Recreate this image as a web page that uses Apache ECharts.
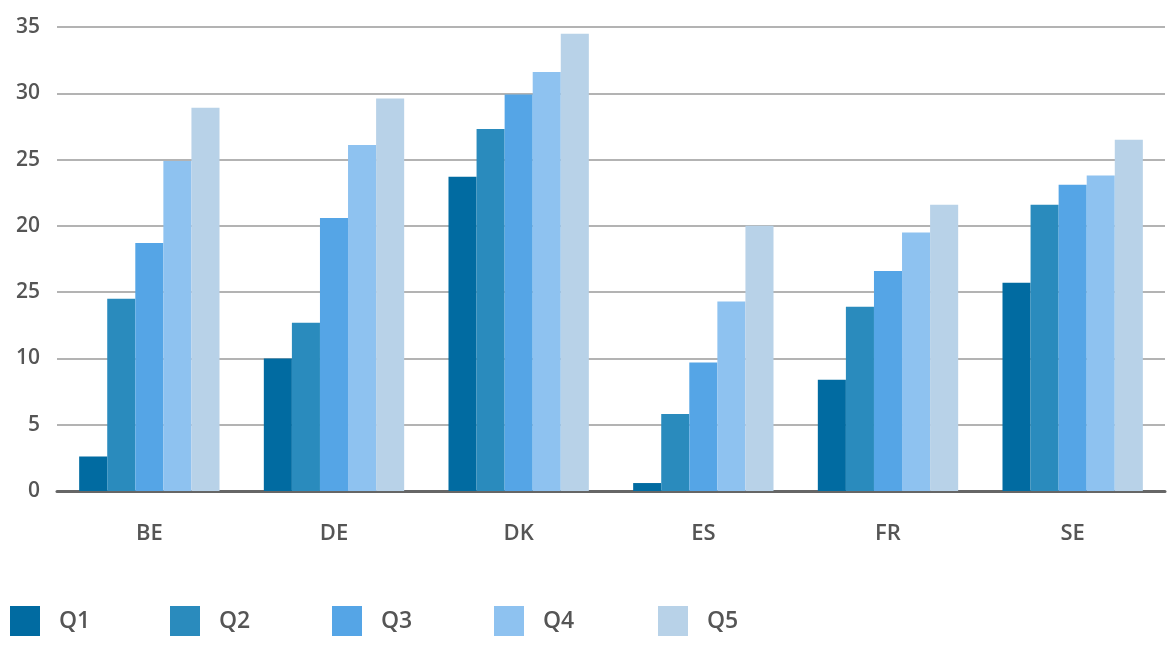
<!DOCTYPE html>
<html>
<head>
<meta charset="utf-8">
<script src="https://cdn.jsdelivr.net/npm/echarts@6/dist/echarts.min.js"></script>
<style>
  html, body { margin: 0; padding: 0; background: #fff; }
  #chart { width: 1176px; height: 653px; }
</style>
</head>
<body>
<div id="chart"></div>
<script>
var categories = ['BE', 'DE', 'DK', 'ES', 'FR', 'SE'];
var seriesNames = ['Q1', 'Q2', 'Q3', 'Q4', 'Q5'];
var q1 = [2.6, 10.0, 23.7, 0.6, 8.4, 15.7];
var q2 = [14.5, 12.7, 27.3, 5.8, 13.9, 21.6];
var q3 = [18.7, 20.6, 29.9, 9.7, 16.6, 23.1];
var q4 = [24.9, 26.1, 31.6, 14.3, 19.5, 23.8];
var q5 = [28.9, 29.6, 34.5, 20.0, 21.6, 26.5];
// tick labels as printed on the original (the 15 tick reads "25")
var yTickLabels = ['0', '5', '10', '25', '20', '25', '30', '35'];

var colors = ['#016ba1', '#2a8bbd', '#55a5e6', '#8ec2f0', '#b8d2e8'];
var values = [q1, q2, q3, q4, q5];
var fontFamily = '"Open Sans", "Noto Sans", sans-serif';
var legendLeft = [10, 170, 332, 494, 658];

var myChart = echarts.init(document.getElementById('chart'));

var option = {
    animation: false,
    color: colors,
    grid: {
        left: 57,
        right: 11,
        top: 27,
        bottom: 162
    },
    legend: seriesNames.map(function (name, i) {
        return {
            data: [name],
            left: legendLeft[i],
            top: 606,
            padding: 0,
            icon: 'rect',
            itemWidth: 30,
            itemHeight: 30,
            itemGap: 0,
            selectedMode: false,
            textStyle: {
                color: '#555',
                fontSize: 23,
                fontWeight: 600,
                fontFamily: fontFamily,
                padding: [6, 0, 0, 14]
            }
        };
    }),
    xAxis: {
        type: 'category',
        data: categories,
        axisTick: {show: false},
        axisLine: {lineStyle: {color: '#666', width: 3}},
        axisLabel: {
            color: '#555',
            fontSize: 22,
            fontWeight: 600,
            fontFamily: fontFamily,
            margin: 32
        }
    },
    yAxis: {
        type: 'value',
        min: 0,
        max: 35,
        interval: 5,
        axisLine: {show: false},
        axisTick: {show: false},
        splitLine: {lineStyle: {color: '#b3b3b3', width: 2}},
        axisLabel: {
            color: '#555',
            fontSize: 21,
            fontWeight: 600,
            fontFamily: fontFamily,
            margin: 17,
            formatter: function (v) {
                return yTickLabels[Math.round(v / 5)];
            }
        }
    },
    series: seriesNames.map(function (name, i) {
        return {
            name: name,
            type: 'bar',
            data: values[i],
            barGap: '0%',
            barCategoryGap: '24%',
            itemStyle: {color: colors[i]}
        };
    })
};

myChart.setOption(option);
</script>
</body>
</html>
